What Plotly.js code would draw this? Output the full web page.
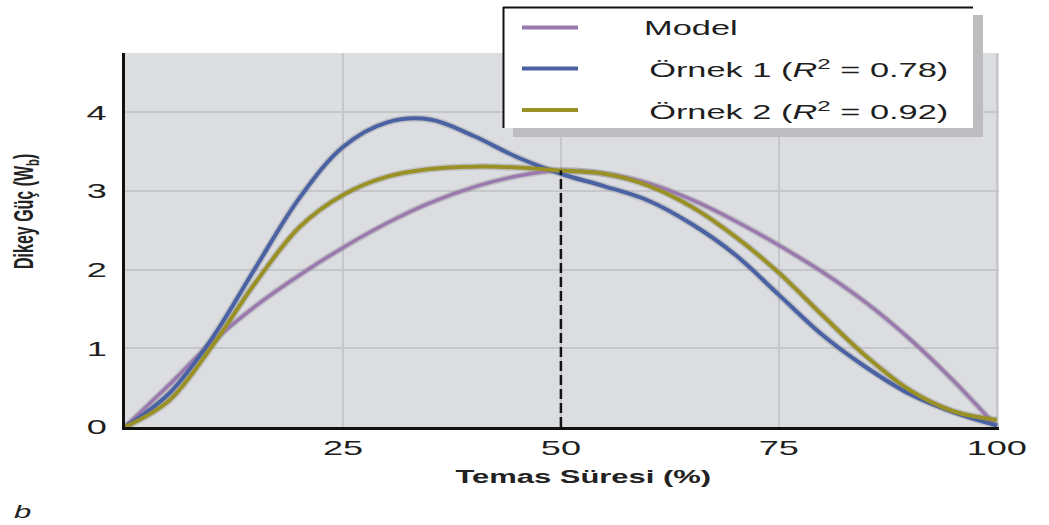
<!DOCTYPE html>
<html>
<head>
<meta charset="utf-8">
<script src="https://cdn.plot.ly/plotly-3.0.1.min.js"></script>
<style>html,body{margin:0;padding:0;background:#fff;}#chart{width:1049px;height:525px;}</style>
</head>
<body>
<div id="chart"></div>
<script>
// ---- data ----
const seriesNames = ["Model", "Örnek 1", "Örnek 2"];
const legendLabels = ["Model", "Örnek 1 (<i>R</i><sup>2</sup> = 0.78)", "Örnek 2 (<i>R</i><sup>2</sup> = 0.92)"];

const contactPct = [0, 5, 10, 15, 20, 25, 30, 35, 40, 45, 50, 55, 60, 65, 70, 75, 80, 85, 90, 95, 100];
const modelY  = [0, 0.53, 1.08, 1.54, 1.93, 2.28, 2.59, 2.85, 3.05, 3.19, 3.26, 3.22, 3.10, 2.89, 2.62, 2.31, 1.97, 1.58, 1.12, 0.59, 0];
const ornek1Y = [0, 0.42, 1.13, 2.03, 2.91, 3.56, 3.87, 3.91, 3.70, 3.43, 3.22, 3.06, 2.88, 2.58, 2.19, 1.68, 1.17, 0.76, 0.42, 0.19, 0.02];
const ornek2Y = [0, 0.33, 1.03, 1.84, 2.54, 2.95, 3.18, 3.28, 3.31, 3.30, 3.26, 3.22, 3.07, 2.80, 2.42, 1.96, 1.42, 0.90, 0.47, 0.20, 0.09];

const xTicks = [25, 50, 75, 100];
const yTicks = [0, 1, 2, 3, 4];
const markerX = 50;      // dashed reference line
const markerTop = 3.26;

const xTitle = "Temas Süresi (%)";
const yTitle = "Dikey Güç (W<sub>b</sub>)";
const panelLabel = "b";

// ---- styling ----
const colors = ["#9a79ae", "#4a62a3", "#999126"];
const widths = [3.5, 4, 4];
const ys = [modelY, ornek1Y, ornek2Y];
const STRETCH = 1.72;   // the reference text is drawn horizontally widened

// pixel helpers for plot area (left 125, right 999, top 53, bottom 427)
const PL = 125, PR = 999, PT = 53, PB = 427;
const fx = p => (p - PL) / (PR - PL);
const fy = p => (PB - p) / (PB - PT);

const traces = [];
for (let i = 0; i < 3; i++) {
  traces.push({x: contactPct, y: ys[i], type: 'scatter', mode: 'lines', hoverinfo: 'skip', showlegend: false,
    line: {shape: 'spline', smoothing: 1, color: 'rgba(140,140,145,0.35)', width: widths[i] + 3}});
}
for (let i = 0; i < 3; i++) {
  traces.push({x: contactPct, y: ys[i], type: 'scatter', mode: 'lines', name: seriesNames[i], showlegend: false,
    line: {shape: 'spline', smoothing: 1, color: colors[i], width: widths[i]}});
}

const shapes = [
  {type: 'line', xref: 'x', yref: 'y', x0: markerX, x1: markerX, y0: 0, y1: markerTop,
   line: {color: '#111', width: 2.5, dash: '10px,4px'}},
  {type: 'rect', xref: 'paper', yref: 'paper', layer: 'above', x0: fx(513), x1: fx(983), y0: fy(137), y1: fy(15),
   fillcolor: '#bdbdbf', line: {width: 0}},
  {type: 'rect', xref: 'paper', yref: 'paper', layer: 'above', x0: fx(503), x1: fx(973), y0: fy(128), y1: fy(7),
   fillcolor: '#ffffff', line: {width: 0}},
  {type: 'line', xref: 'paper', yref: 'paper', layer: 'above', x0: fx(503), x1: fx(973), y0: fy(7.5), y1: fy(7.5),
   line: {color: '#111', width: 2}},
  {type: 'line', xref: 'paper', yref: 'paper', layer: 'above', x0: fx(503.5), x1: fx(503.5), y0: fy(7), y1: fy(128),
   line: {color: '#111', width: 2}}
];
const legendRows = [27.5, 68.5, 110];
const textLeft = [641, 646, 646];
const annotations = [];
const stretchModes = [];
for (let i = 0; i < 3; i++) {
  shapes.push({type: 'line', xref: 'paper', yref: 'paper', layer: 'above', x0: fx(522), x1: fx(578),
    y0: fy(legendRows[i]), y1: fy(legendRows[i]), line: {color: colors[i], width: 4}});
  annotations.push({xref: 'paper', yref: 'paper', x: fx(textLeft[i]), y: fy(legendRows[i]), xanchor: 'left', yanchor: 'middle',
    text: legendLabels[i], showarrow: false, font: {family: 'Liberation Sans, Arial, sans-serif', size: 20, color: '#1e1e1e'}});
  stretchModes.push('left');
}
annotations.push({xref: 'paper', yref: 'paper', x: fx(583), y: fy(477), xanchor: 'center', yanchor: 'middle',
  text: '<b>' + xTitle + '</b>', showarrow: false,
  font: {family: 'Liberation Sans, Arial, sans-serif', size: 18, color: '#222'}});
stretchModes.push('center');
annotations.push({xref: 'paper', yref: 'paper', x: fx(25), y: fy(212), xanchor: 'center', yanchor: 'middle', textangle: -90,
  text: '<b>' + yTitle + '</b>', showarrow: false,
  font: {family: 'Liberation Sans, Arial, sans-serif', size: 16, color: '#222'}});
stretchModes.push('center');
annotations.push({xref: 'paper', yref: 'paper', x: fx(11), y: fy(500), xanchor: 'left', yanchor: 'top',
  text: '<i>' + panelLabel + '</i>', showarrow: false, font: {family: 'Liberation Sans, Arial, sans-serif', size: 18, color: '#222'}});
stretchModes.push('left');

const tickFont = {family: 'Liberation Sans, Arial, sans-serif', size: 21, color: '#1e1e1e'};
const layout = {
  width: 1049, height: 525,
  margin: {l: PL, r: 1049 - PR, t: PT, b: 525 - PB, pad: 0},
  paper_bgcolor: '#ffffff', plot_bgcolor: '#dcdde0',
  showlegend: false,
  xaxis: {range: [0, 100.25], tickvals: xTicks, ticktext: xTicks.map(String), tickfont: tickFont,
    showgrid: true, gridcolor: '#c6c7ca', gridwidth: 2, zeroline: false,
    showline: true, linecolor: '#111', linewidth: 2.5, ticks: '', ticklabelstandoff: 0, fixedrange: true},
  yaxis: {range: [0, 4.755], tickvals: yTicks, ticktext: yTicks.map(String), tickfont: tickFont,
    showgrid: true, gridcolor: '#c6c7ca', gridwidth: 2, zeroline: false,
    showline: true, linecolor: '#111', linewidth: 3, ticks: '', ticklabelstandoff: 11, fixedrange: true},
  shapes: shapes,
  annotations: annotations
};

// widen a rendered text horizontally (screen x) around its left / centre / right edge
function widen(el, f, mode) {
  const r = el.getBoundingClientRect();
  if (!r.width) return;
  const sx = mode === 'left' ? r.left : mode === 'right' ? r.right : (r.left + r.right) / 2;
  const svg = el.ownerSVGElement;
  const pt = svg.createSVGPoint(); pt.x = sx; pt.y = (r.top + r.bottom) / 2;
  const p = pt.matrixTransform(el.parentNode.getScreenCTM().inverse());
  const old = el.getAttribute('transform') || '';
  el.setAttribute('transform', 'translate(' + p.x + ',0) scale(' + f + ',1) translate(' + (-p.x) + ',0) ' + old);
}

Plotly.newPlot('chart', traces, layout, {staticPlot: true, displayModeBar: false}).then(gd => {
  gd.querySelectorAll('.xtick text').forEach(t => widen(t, STRETCH, 'center'));
  gd.querySelectorAll('.ytick text').forEach(t => widen(t, STRETCH, 'right'));
  gd.querySelectorAll('g.annotation').forEach(g => {
    const i = +g.getAttribute('data-index');
    widen(g, STRETCH, stretchModes[i] || 'center');
  });
});
</script>
</body>
</html>
